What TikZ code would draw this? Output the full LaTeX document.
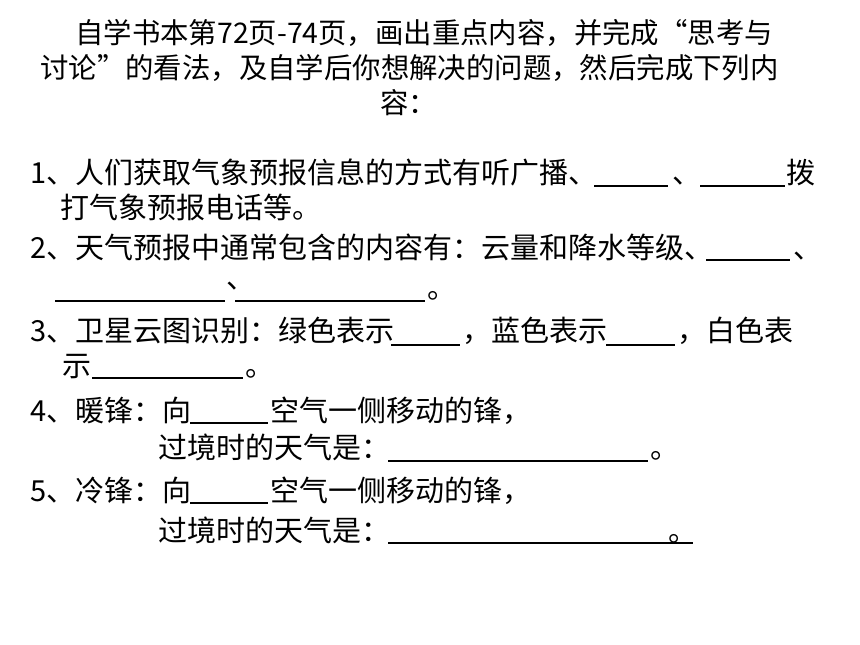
\documentclass[tikz,border=0pt]{standalone}
\usepackage{fontspec}
\newfontfamily\cjk{Noto Sans CJK SC}
\usetikzlibrary{positioning}

\tikzset{
	txt/.style={inner sep=0pt, anchor=base west, font=\cjk\fontsize{21.75}{26}\selectfont},
	head/.style={txt, font=\cjk\fontsize{21.3}{26}\selectfont},
	blank/.style={line width=1pt, black}
}

\begin{document}
\begin{tikzpicture}[x=0.75pt, y=-0.75pt]
		\useasboundingbox[fill=white] (0,0) rectangle (860,645);
		% heading
		\node[head] (t1) at (75,44) {自学书本第72页-74页，画出重点内容，并完成“思考与};
		\node[head] (t2) at (40,79) {讨论”的看法，及自学后你想解决的问题，然后完成下列内};
		\node[head] (t3) at (380,114) {容：};
		
		% question 1
		\node[txt] (q1a) at (30,184) {1、人们获取气象预报信息的方式有听广播、};
		\node[txt] (q1b) at (672,184) {、};
		\node[txt] (q1c) at (786,184) {拨};
		\node[txt] (q1d) at (60,219) {打气象预报电话等。};
		\draw[blank] (594,186) -- (668,186);
		\draw[blank] (700,186) -- (785,186);
		
		% question 2
		\node[txt] (q2a) at (30,259) {2、天气预报中通常包含的内容有：云量和降水等级、};
		\node[txt] (q2b) at (793,259) {、};
		\node[txt] (q2c) at (226,288) {、};
		\node[txt] (q2d) at (427,299) {。};
		\draw[blank] (706,260) -- (790,260);
		\draw[blank] (55,301) -- (225,301);
		\draw[blank] (235,301) -- (425,301);
		
		% question 3
		\node[txt] (q3a) at (30,341) {3、卫星云图识别：绿色表示};
		\node[txt] (q3b) at (462,341) {，蓝色表示};
		\node[txt] (q3c) at (677,341) {，白色表};
		\node[txt] (q3d) at (62,376) {示};
		\node[txt] (q3e) at (245,376) {。};
		\draw[blank] (391,345) -- (460,345);
		\draw[blank] (606,345) -- (675,345);
		\draw[blank] (92,378) -- (243,378);
		
		% question 4
		\node[txt] (q4a) at (30,421) {4、暖锋：向};
		\node[txt] (q4b) at (270,421) {空气一侧移动的锋，};
		\node[txt] (q4c) at (158,458) {过境时的天气是：};
		\node[txt] (q4d) at (650,458) {。};
		\draw[blank] (190,423) -- (268,423);
		\draw[blank] (388,461) -- (648,461);
		
		% question 5
		\node[txt] (q5a) at (30,501) {5、冷锋：向};
		\node[txt] (q5b) at (270,501) {空气一侧移动的锋，};
		\node[txt] (q5c) at (158,541) {过境时的天气是：};
		\node[txt] (q5d) at (668,541) {。};
		\draw[blank] (190,503) -- (268,503);
		\draw[blank] (388,543) -- (693,543);
\end{tikzpicture}
\end{document}
